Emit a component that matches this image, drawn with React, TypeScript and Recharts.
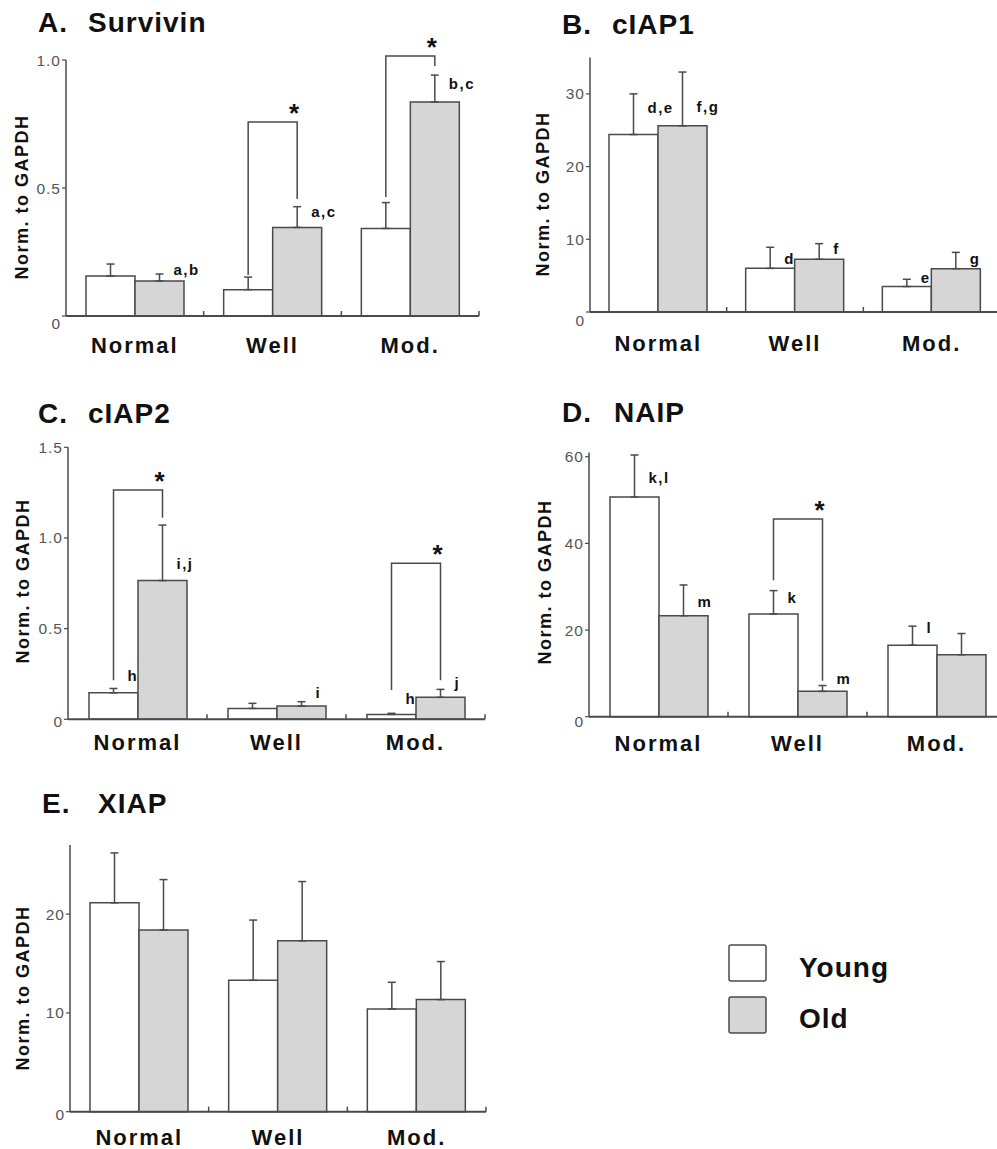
import React from 'react';
import { BarChart, Bar, XAxis, YAxis, ErrorBar, Rectangle } from 'recharts';

// ---------- data ----------
const categories = ['Normal', 'Well', 'Mod.'];
const seriesNames = ['Young', 'Old'];

// A. Survivin
const survivinYoung = [0.156, 0.103, 0.342];
const survivinYoungErr = [0.047, 0.049, 0.101];
const survivinOld = [0.137, 0.346, 0.836];
const survivinOldErr = [0.027, 0.081, 0.105];
const survivinTicks = [0, 0.5, 1.0];
const survivinTickLabels = ['0', '0.5', '1.0'];
const survivinYoungLetters = ['', '', ''];
const survivinYoungLetterLevels = [0, 0, 0];
const survivinOldLetters = ['a,b', 'a,c', 'b,c'];
const survivinOldLetterLevels = [0.18, 0.41, 0.91];
const survivinBrackets = [null, [0.16, 0.758, 0.457], [0.465, 1.016, 0.977]];

// B. cIAP1
const ciap1Young = [24.4, 6.0, 3.5];
const ciap1YoungErr = [5.6, 2.9, 1.0];
const ciap1Old = [25.6, 7.25, 5.96];
const ciap1OldErr = [7.4, 2.15, 2.24];
const ciap1Ticks = [0, 10, 20, 30];
const ciap1TickLabels = ['0', '10', '20', '30'];
const ciap1YoungLetters = ['d,e', 'd', 'e'];
const ciap1YoungLetterLevels = [28.1, 7.4, 4.8];
const ciap1OldLetters = ['f,g', 'f', 'g'];
const ciap1OldLetterLevels = [28.2, 8.8, 7.4];
const ciap1Brackets = [null, null, null];

// C. cIAP2
const ciap2Young = [0.146, 0.06, 0.027];
const ciap2YoungErr = [0.024, 0.028, 0.006];
const ciap2Old = [0.765, 0.073, 0.121];
const ciap2OldErr = [0.306, 0.024, 0.044];
const ciap2Ticks = [0, 0.5, 1.0, 1.5];
const ciap2TickLabels = ['0', '0.5', '1.0', '1.5'];
const ciap2YoungLetters = ['h', '', 'h'];
const ciap2YoungLetterLevels = [0.244, 0, 0.117];
const ciap2OldLetters = ['i,j', 'i', 'j'];
const ciap2OldLetterLevels = [0.859, 0.15, 0.205];
const ciap2Brackets = [[0.216, 1.265, 1.112], null, [0.161, 0.86, 0.216]];

// D. NAIP
const naipYoung = [50.7, 23.7, 16.5];
const naipYoungErr = [9.7, 5.4, 4.4];
const naipOld = [23.3, 5.85, 14.3];
const naipOldErr = [7.1, 1.35, 4.9];
const naipTicks = [0, 20, 40, 60];
const naipTickLabels = ['0', '20', '40', '60'];
const naipYoungLetters = ['k,l', 'k', 'l'];
const naipYoungLetterLevels = [55.3, 27.4, 20.5];
const naipOldLetters = ['m', 'm', ''];
const naipOldLetterLevels = [26.5, 8.9, 0];
const naipBrackets = [null, [31.5, 45.6, 8.3], null];

// E. XIAP
const xiapYoung = [21.15, 13.3, 10.4];
const xiapYoungErr = [5.05, 6.1, 2.7];
const xiapOld = [18.4, 17.3, 11.35];
const xiapOldErr = [5.1, 6.0, 3.85];
const xiapTicks = [0, 10, 20];
const xiapTickLabels = ['0', '10', '20'];
const xiapYoungLetters = ['', '', ''];
const xiapYoungLetterLevels = [0, 0, 0];
const xiapOldLetters = ['', '', ''];
const xiapOldLetterLevels = [0, 0, 0];
const xiapBrackets = [null, null, null];

// ---------- helpers ----------
function buildRows(
  young: number[], youngErr: number[], old: number[], oldErr: number[],
  yl: string[], yll: number[], ol: string[], oll: number[], br: (number[] | null)[]
) {
  return categories.map((c, i) => ({
    category: c,
    young: young[i],
    youngErr: [0, youngErr[i]],
    old: old[i],
    oldErr: [0, oldErr[i]],
    youngLetter: yl[i],
    youngLetterLevel: yll[i],
    oldLetter: ol[i],
    oldLetterLevel: oll[i],
    bracket: br[i],
  }));
}

const FONT = '"Liberation Sans", Arial, Helvetica, sans-serif';
const STROKE = '#4a4a4a';
const OLD_FILL = '#d6d6d6';
const INK = '#111';

const OldBarShape = (props: any) => {
  const { x, y, width, height, payload } = props;
  if (x == null || y == null || !payload) return null;
  const k = payload.old !== 0 ? height / payload.old : 0;
  const base = y + height;
  const py = (v: number) => base - v * k;
  const yc = x - width / 2;
  const oc = x + width / 2;
  const br = payload.bracket as number[] | null;
  const letterStyle = { fontFamily: FONT, fontSize: 15, fontWeight: 700, letterSpacing: 1.5, fill: INK } as any;
  return (
    <g>
      <Rectangle x={x} y={y} width={width} height={height} fill={OLD_FILL} stroke={STROKE} strokeWidth={1.5} />
      {payload.youngLetter ? (
        <text x={yc + 14} y={py(payload.youngLetterLevel)} dominantBaseline="central" {...letterStyle}>
          {payload.youngLetter}
        </text>
      ) : null}
      {payload.oldLetter ? (
        <text x={oc + 14} y={py(payload.oldLetterLevel)} dominantBaseline="central" {...letterStyle}>
          {payload.oldLetter}
        </text>
      ) : null}
      {br ? (
        <g>
          <polyline
            points={`${yc},${py(br[0])} ${yc},${py(br[1])} ${oc},${py(br[1])} ${oc},${py(br[2])}`}
            fill="none"
            stroke={STROKE}
            strokeWidth={1.5}
          />
          <text x={oc - 3} y={py(br[1])} textAnchor="middle" fontFamily={FONT} fontSize={26} fontWeight={700} fill={INK}>
            *
          </text>
        </g>
      ) : null}
    </g>
  );
};

type Panel = {
  key: string;
  letter: string;
  name: string;
  letterX: number;
  nameX: number;
  titleY: number;
  ylabX: number;
  ylabY: number;
  rows: any[];
  domain: [number, number];
  ticks: number[];
  tickLabels: string[];
  chart: [number, number, number, number];
  plot: [number, number, number, number];
  labelDy: number;
  zeroDy: number;
};

const panels: Panel[] = [
  {
    key: 'A', letter: 'A.', name: 'Survivin', letterX: 38, nameX: 88, titleY: 22, ylabX: 22, ylabY: 197,
    rows: buildRows(survivinYoung, survivinYoungErr, survivinOld, survivinOldErr, survivinYoungLetters, survivinYoungLetterLevels, survivinOldLetters, survivinOldLetterLevels, survivinBrackets),
    domain: [0, 1], ticks: survivinTicks, tickLabels: survivinTickLabels,
    chart: [0, 0, 490, 370], plot: [66, 60, 479, 316], labelDy: 29, zeroDy: 7,
  },
  {
    key: 'B', letter: 'B.', name: 'cIAP1', letterX: 562, nameX: 612, titleY: 24, ylabX: 543, ylabY: 194,
    rows: buildRows(ciap1Young, ciap1YoungErr, ciap1Old, ciap1OldErr, ciap1YoungLetters, ciap1YoungLetterLevels, ciap1OldLetters, ciap1OldLetterLevels, ciap1Brackets),
    domain: [0, 35], ticks: ciap1Ticks, tickLabels: ciap1TickLabels,
    chart: [490, 0, 520, 370], plot: [590, 57.5, 1000, 312], labelDy: 31, zeroDy: 8,
  },
  {
    key: 'C', letter: 'C.', name: 'cIAP2', letterX: 38, nameX: 88, titleY: 413, ylabX: 22.5, ylabY: 581,
    rows: buildRows(ciap2Young, ciap2YoungErr, ciap2Old, ciap2OldErr, ciap2YoungLetters, ciap2YoungLetterLevels, ciap2OldLetters, ciap2OldLetterLevels, ciap2Brackets),
    domain: [0, 1.5], ticks: ciap2Ticks, tickLabels: ciap2TickLabels,
    chart: [0, 370, 490, 400], plot: [68, 447.3, 485, 719.3], labelDy: 23, zeroDy: 2,
  },
  {
    key: 'D', letter: 'D.', name: 'NAIP', letterX: 562, nameX: 614, titleY: 412, ylabX: 544.5, ylabY: 582,
    rows: buildRows(naipYoung, naipYoungErr, naipOld, naipOldErr, naipYoungLetters, naipYoungLetterLevels, naipOldLetters, naipOldLetterLevels, naipBrackets),
    domain: [0, 61], ticks: naipTicks, tickLabels: naipTickLabels,
    chart: [490, 370, 520, 400], plot: [589, 452.4, 1006, 716.7], labelDy: 27, zeroDy: 5,
  },
  {
    key: 'E', letter: 'E.', name: 'XIAP', letterX: 42, nameX: 98, titleY: 803.5, ylabX: 22.5, ylabY: 988,
    rows: buildRows(xiapYoung, xiapYoungErr, xiapOld, xiapOldErr, xiapYoungLetters, xiapYoungLetterLevels, xiapOldLetters, xiapOldLetterLevels, xiapBrackets),
    domain: [0, 27], ticks: xiapTicks, tickLabels: xiapTickLabels,
    chart: [0, 740, 490, 409], plot: [70, 845, 486, 1111.7], labelDy: 26, zeroDy: 3,
  },
];

const YW = 50;
const XH = 30;

function PanelChart({ p }: { p: Panel }) {
  const [cl, ct, cw, ch] = p.chart;
  const [pl, pt, pr, pb] = p.plot;
  const margin = {
    left: pl - cl - YW,
    top: pt - ct,
    right: cl + cw - pr,
    bottom: ct + ch - pb - XH,
  };
  const band = (pr - pl) / categories.length;

  const renderXTick = (props: any) => {
    const { x, y, payload } = props;
    return (
      <g>
        <text
          x={x}
          y={y + p.labelDy}
          textAnchor="middle"
          dominantBaseline="central"
          fontFamily={FONT}
          fontSize={22}
          fontWeight={700}
          letterSpacing={2}
          fill={INK}
        >
          {payload.value}
        </text>
        <line x1={x + band / 2} x2={x + band / 2} y1={y} y2={y - 5} stroke={STROKE} strokeWidth={1.5} />
      </g>
    );
  };

  const renderYTick = (props: any) => {
    const { x, y, payload } = props;
    const idx = p.ticks.indexOf(payload.value);
    const label = idx >= 0 ? p.tickLabels[idx] : String(payload.value);
    return (
      <text
        x={x}
        y={y + (payload.value === 0 ? p.zeroDy : 0)}
        textAnchor="end"
        dominantBaseline="central"
        fontFamily={FONT}
        fontSize={15.5}
        letterSpacing={1}
        fill="#555"
      >
        {label}
      </text>
    );
  };

  return (
    <div style={{ position: 'absolute', left: cl, top: ct, width: cw, height: ch }}>
      <BarChart width={cw} height={ch} data={p.rows} margin={margin} barGap={0} barSize={49}>
        <XAxis
          dataKey="category"
          height={XH}
          interval={0}
          tickLine={false}
          tickSize={0}
          tickMargin={0}
          axisLine={{ stroke: STROKE, strokeWidth: 2 }}
          tick={renderXTick}
        />
        <YAxis
          type="number"
          width={YW}
          domain={p.domain}
          ticks={p.ticks}
          interval={0}
          tickSize={4}
          tickMargin={1}
          axisLine={{ stroke: STROKE, strokeWidth: 1.5 }}
          tickLine={{ stroke: STROKE, strokeWidth: 1.2 }}
          tick={renderYTick}
        />
        <Bar dataKey="young" name={seriesNames[0]} fill="#ffffff" stroke={STROKE} strokeWidth={1.5} isAnimationActive={false}>
          <ErrorBar dataKey="youngErr" width={4} stroke={STROKE} strokeWidth={1.5} direction="y" isAnimationActive={false} />
        </Bar>
        <Bar dataKey="old" name={seriesNames[1]} fill={OLD_FILL} stroke={STROKE} strokeWidth={1.5} shape={OldBarShape} isAnimationActive={false}>
          <ErrorBar dataKey="oldErr" width={4} stroke={STROKE} strokeWidth={1.5} direction="y" isAnimationActive={false} />
        </Bar>
      </BarChart>
    </div>
  );
}

function Overlay() {
  const titleStyle = { fontFamily: FONT, fontSize: 28, fontWeight: 700, letterSpacing: 1, fill: INK } as any;
  return (
    <svg width={997} height={1149} style={{ position: 'absolute', left: 0, top: 0, pointerEvents: 'none' }}>
      {panels.map((p) => (
        <g key={p.key}>
          <text x={p.letterX} y={p.titleY} dominantBaseline="central" {...titleStyle}>{p.letter}</text>
          <text x={p.nameX} y={p.titleY} dominantBaseline="central" {...titleStyle}>{p.name}</text>
          <text
            x={p.ylabX}
            y={p.ylabY}
            transform={`rotate(-90, ${p.ylabX}, ${p.ylabY})`}
            textAnchor="middle"
            dominantBaseline="central"
            fontFamily={FONT}
            fontSize={18}
            fontWeight={700}
            letterSpacing={1.5}
            fill={INK}
          >
            Norm. to GAPDH
          </text>
        </g>
      ))}
      {/* legend */}
      <rect x={729} y={945} width={37} height={36} rx={2} fill="#ffffff" stroke={STROKE} strokeWidth={1.5} />
      <text x={799} y={967} dominantBaseline="central" {...titleStyle}>{seriesNames[0]}</text>
      <rect x={729} y={997} width={37} height={36} rx={2} fill={OLD_FILL} stroke={STROKE} strokeWidth={1.5} />
      <text x={799} y={1018} dominantBaseline="central" {...titleStyle}>{seriesNames[1]}</text>
    </svg>
  );
}

export default function App() {
  return (
    <div
      style={{
        position: 'absolute',
        left: 0,
        top: 0,
        width: 997,
        height: 1149,
        overflow: 'hidden',
        background: '#ffffff',
        fontFamily: FONT,
      }}
    >
      {panels.map((p) => (
        <PanelChart key={p.key} p={p} />
      ))}
      <Overlay />
    </div>
  );
}
